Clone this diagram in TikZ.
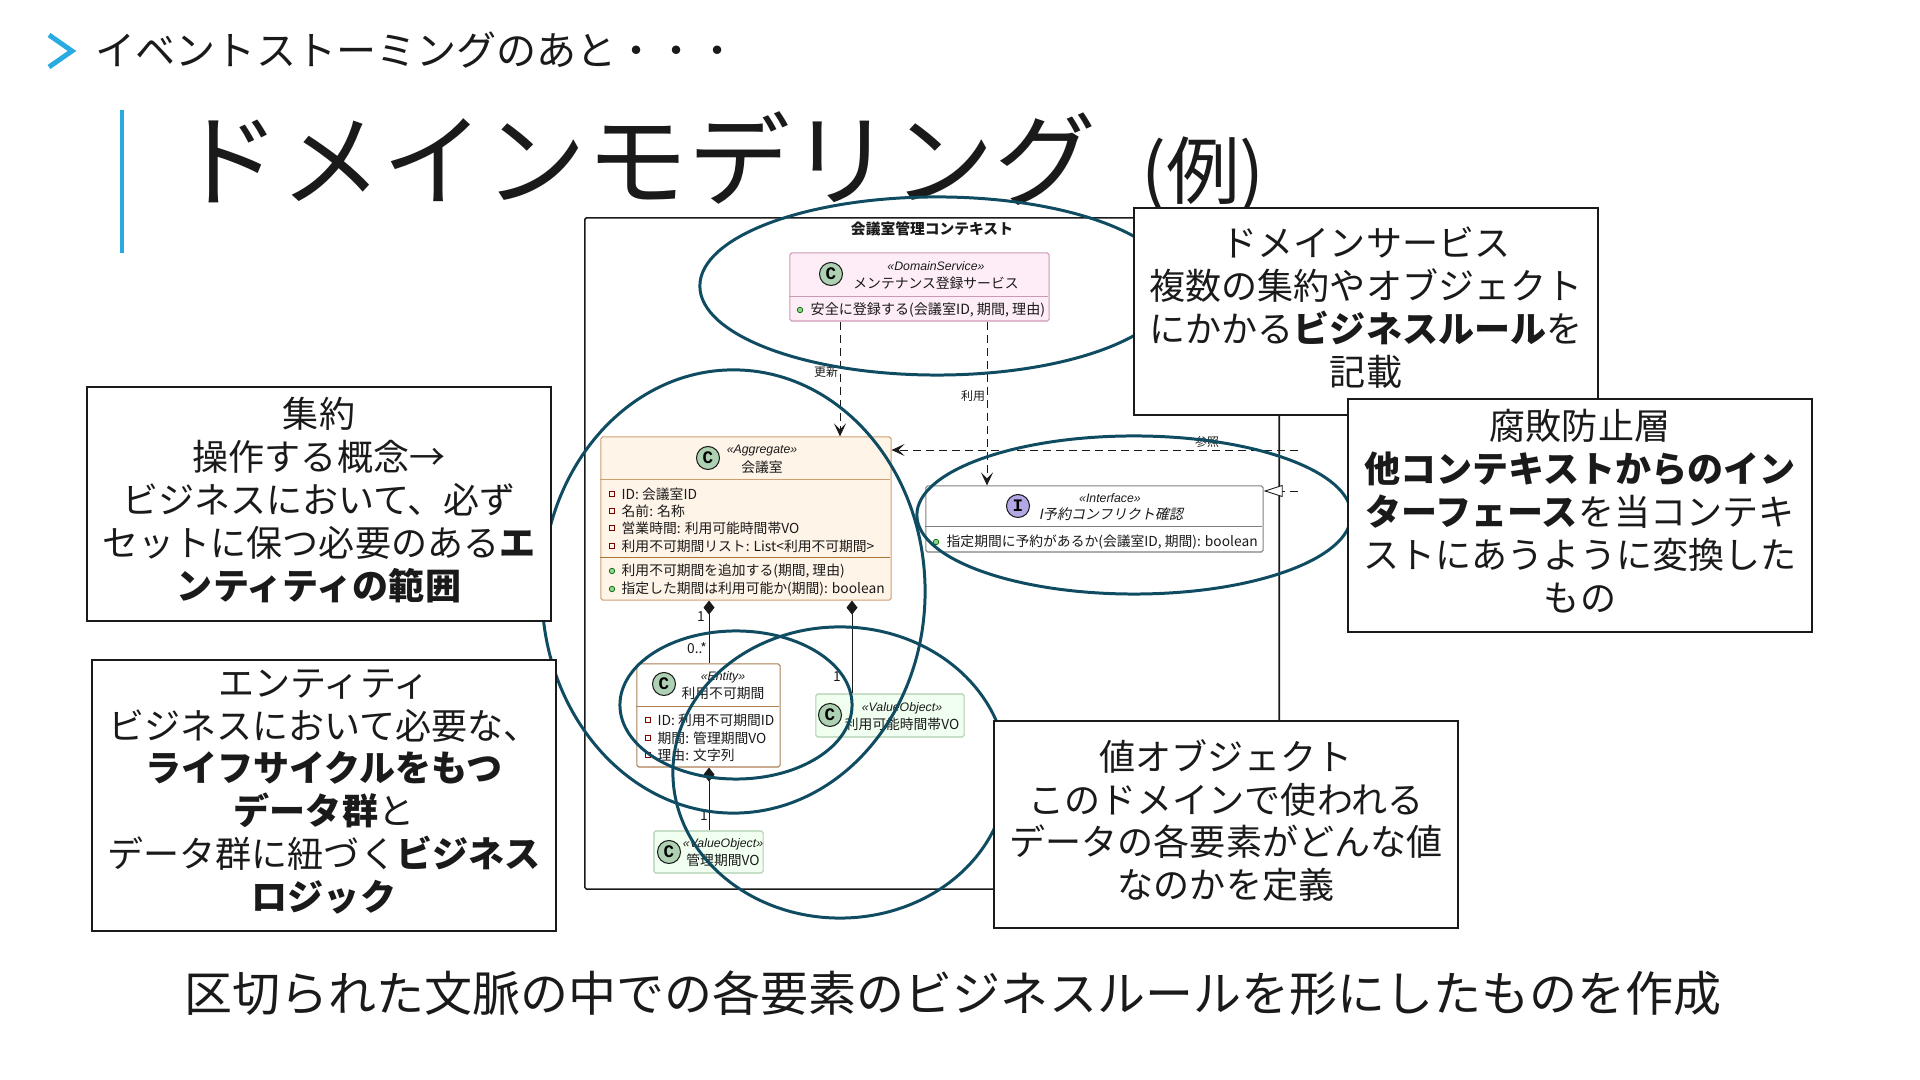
\documentclass[tikz,border=0pt]{standalone}
\usepackage{fontspec}
\usepackage{tikz}
\usetikzlibrary{arrows.meta}
\usetikzlibrary{shapes.geometric}
\setmainfont{Noto Sans CJK JP}
\newfontfamily\slantfont[FakeSlant=0.2]{Noto Sans CJK JP}
\newfontfamily\stereofont{Liberation Sans}
\newfontfamily\glyphfont{Liberation Mono}
\definecolor{ring_teal}{HTML}{0F4C61}
\definecolor{accent_blue}{HTML}{29ABE2}
\definecolor{ink}{HTML}{1A1A1A}
\definecolor{spot_green}{HTML}{ADD1B2}
\definecolor{spot_purple}{HTML}{B4A7E5}
\newcommand{\stereo}[1]{{\stereofont\itshape\fontsize{3.5pt}{4pt}\selectfont\guillemotleft #1\guillemotright}}
\newcommand{\notepad}{\rule[-1.08mm]{0pt}{1pt}}

\begin{document}
\begin{tikzpicture}[x=0.01cm,y=-0.01cm,
    class_box/.style={draw,rounded corners=0.5pt,line width=0.3pt,inner sep=0pt},
    small_text/.style={inner sep=0pt,text=ink,font=\fontsize{3.92pt}{4.6pt}\selectfont},
    member/.style={small_text,anchor=west},
    spot/.style={circle,draw=ink,line width=0.3pt,minimum size=0.23cm,inner sep=0pt,
                 font=\glyphfont\bfseries\fontsize{5pt}{5.5pt}\selectfont},
    field_mark/.style={rectangle,draw=red!50!black,line width=0.25pt,minimum size=0.05cm,inner sep=0pt},
    method_mark/.style={circle,draw=green!40!black,fill=green!45!gray!60,line width=0.2pt,minimum size=0.055cm,inner sep=0pt},
    ring/.style={ellipse,draw=ring_teal,line width=0.85pt,inner sep=0pt},
    note_box/.style={draw=ink,fill=white,line width=0.5pt,inner sep=0pt,align=center,text=ink,
                     font=\fontsize{10.25pt}{12.2pt}\selectfont}]
\useasboundingbox (0,0) rectangle (1920,1080);

% header
\draw [accent_blue,line width=1.4pt] (49,35) -- (72,51) -- (49,67);
\node [anchor=west,inner sep=0pt,text=ink,font=\fontsize{11.4pt}{13pt}\selectfont] (subtitle) at (95,50) {イベントストーミングのあと・・・};
\draw [accent_blue,line width=1pt] (122,110) -- (122,253);
\node [anchor=west,inner sep=0pt,text=ink,font=\fontsize{29pt}{32pt}\selectfont] (title) at (178,159) {ドメインモデリング};
\node [inner sep=0pt,text=ink,font=\fontsize{21pt}{24pt}\selectfont] (title_note) at (1203,175) {(例)};
\node [inner sep=0pt,text=ink,font=\fontsize{13.65pt}{16pt}\selectfont] (summary) at (953,993) {区切られた文脈の中での各要素のビジネスルールを形にしたものを作成};

% context frame
\node (frame) [draw=ink,rounded corners=0.5pt,line width=0.45pt,minimum width=6.94cm,minimum height=6.71cm] at (932,553.5) {};
\node (frame_title) [small_text,font=\bfseries\fontsize{4.2pt}{5pt}\selectfont] at (932,229) {会議室管理コンテキスト};

% classes
\node (ds) [class_box,draw=magenta!35!gray!70,fill=magenta!7,minimum width=2.59cm,minimum height=0.68cm] at (919.5,287) {};
\node (agg) [class_box,draw=brown!75,fill=orange!9,minimum width=2.90cm,minimum height=1.63cm] at (746,518.5) {};
\node (ifc) [class_box,draw=gray,fill=white,minimum width=3.37cm,minimum height=0.66cm] at (1094.5,519) {};
\node (ent) [class_box,draw=brown!70!gray,fill=white,minimum width=1.43cm,minimum height=1.03cm] at (708.5,715.5) {};
\node (vo1) [class_box,draw=green!25!gray!50,fill=green!6,minimum width=1.48cm,minimum height=0.43cm] at (890,715.5) {};
\node (vo2) [class_box,draw=green!25!gray!50,fill=green!6,minimum width=1.09cm,minimum height=0.42cm] at (708.5,852) {};

\draw [magenta!35!gray!70,line width=0.3pt] (ds.north west) ++(0,44) -- ++(259,0);
\draw [brown!75,line width=0.3pt] (agg.north west) ++(0,43) -- ++(290,0);
\draw [brown!90!black,line width=0.4pt] (agg.north west) ++(0,121) -- ++(290,0);
\draw [gray,line width=0.3pt] (ifc.north west) ++(0,41) -- ++(337,0);
\draw [brown!70!gray,line width=0.3pt] (ent.north west) ++(0,43) -- ++(143,0);

\node (ds_spot) [spot,fill=spot_green] at (831,274) {C};
\node (ds_st) [small_text] at (936,266) {\stereo{DomainService}};
\node (ds_name) [small_text] at (936,283) {メンテナンス登録サービス};
\node (ds_m) [method_mark] at (800,310) {};
\node (ds_mt) [member,font=\fontsize{4pt}{4.6pt}\selectfont] at (810,310) {安全に登録する(会議室ID, 期間, 理由)};

\node (agg_spot) [spot,fill=spot_green] at (708,458) {C};
\node (agg_st) [small_text] at (762,451) {\stereo{Aggregate}};
\node (agg_name) [small_text] at (762,467) {会議室};
\node (agg_f1) [field_mark] at (612,494) {};
\node (agg_f1t) [member] at (621,494) {ID: 会議室ID};
\node (agg_f2) [field_mark] at (612,511) {};
\node (agg_f2t) [member] at (621,511) {名前: 名称};
\node (agg_f3) [field_mark] at (612,528) {};
\node (agg_f3t) [member] at (621,528) {営業時間: 利用可能時間帯VO};
\node (agg_f4) [field_mark] at (612,546) {};
\node (agg_f4t) [member] at (621,546) {利用不可期間リスト: List<利用不可期間>};
\node (agg_m1) [method_mark] at (612,571) {};
\node (agg_m1t) [member] at (621,571) {利用不可期間を追加する(期間, 理由)};
\node (agg_m2) [method_mark] at (612,589) {};
\node (agg_m2t) [member] at (621,589) {指定した期間は利用可能か(期間): boolean};

\node (ifc_spot) [spot,fill=spot_purple] at (1018,506) {I};
\node (ifc_st) [small_text] at (1110,498) {\stereo{Interface}};
\node (ifc_name) [small_text,font=\slantfont\fontsize{4pt}{4.6pt}\selectfont] at (1111,514) {I予約コンフリクト確認};
\node (ifc_m) [method_mark] at (936,542) {};
\node (ifc_mt) [member] at (946,542) {指定期間に予約があるか(会議室ID, 期間): boolean};

\node (ent_spot) [spot,fill=spot_green] at (664,684) {C};
\node (ent_st) [small_text] at (723,677) {\stereo{Entity}};
\node (ent_name) [small_text] at (723,693) {利用不可期間};
\node (ent_f1) [field_mark] at (648,720) {};
\node (ent_f1t) [member] at (657,720) {ID: 利用不可期間ID};
\node (ent_f2) [field_mark] at (648,738) {};
\node (ent_f2t) [member] at (657,738) {期間: 管理期間VO};
\node (ent_f3) [field_mark] at (648,755) {};
\node (ent_f3t) [member] at (657,755) {理由: 文字列};

\node (vo1_spot) [spot,fill=spot_green] at (830,715) {C};
\node (vo1_st) [small_text] at (902,708) {\stereo{ValueObject}};
\node (vo1_name) [small_text] at (902,724) {利用可能時間帯VO};

\node (vo2_spot) [spot,fill=spot_green] at (669,852) {C};
\node (vo2_st) [small_text] at (723,844) {\stereo{ValueObject}};
\node (vo2_name) [small_text] at (723,860) {管理期間VO};

% connectors
\coordinate (upd_x) at (840,0);
\coordinate (use_x) at (987,0);
\coordinate (ref_start) at (1298,450);
\coordinate (impl_start) at (1298,491);
\coordinate (ent_x) at (709,0);
\coordinate (vo1_x) at (852,0);
\begin{scope}[dep_edge/.style={draw=ink,line width=0.25pt,dash pattern=on 0.8mm off 0.5mm},
              comp_edge/.style={draw=ink,line width=0.25pt},
              >={Stealth[ink,length=1.3mm,width=1.2mm,inset=0.6mm]}]
    \path [->] (ds.south -| upd_x) edge [dep_edge] (agg.north -| upd_x);
    \path [->] (ds.south -| use_x) edge [dep_edge] (ifc.north -| use_x);
    \path [->] (ref_start) edge [dep_edge] (agg.east |- ref_start);
    \path [-{Triangle[open,fill=white,length=1.9mm,width=1.2mm]}] (impl_start) edge [dep_edge] (ifc.east |- impl_start);
    \path [{Diamond[ink,length=1.4mm,width=1.1mm]}-] (agg.south -| ent_x) edge [comp_edge] (ent.north -| ent_x);
    \path [{Diamond[ink,length=1.4mm,width=1.1mm]}-] (agg.south -| vo1_x) edge [comp_edge] (vo1.north -| vo1_x);
    \path [{Diamond[ink,length=1.4mm,width=1.1mm]}-] (ent.south -| ent_x) edge [comp_edge] (vo2.north -| ent_x);
\end{scope}
\node (upd_label) [small_text,font=\fontsize{3.4pt}{4pt}\selectfont] at (826,372) {更新};
\node (use_label) [small_text,font=\fontsize{3.4pt}{4pt}\selectfont] at (973,396) {利用};
\node (ref_label) [small_text,font=\fontsize{3.4pt}{4pt}\selectfont] at (1207,442) {参照};
\node (ent_m1) [small_text] at (701,617) {1};
\node (ent_m2) [small_text] at (697,648) {0..*};
\node (vo1_m) [small_text] at (837,677) {1};
\node (vo2_m) [small_text] at (704,816) {1};

% highlight rings
\node (ds_ring) [ring,minimum width=4.74cm,minimum height=1.78cm] at (937,286) {};
\node (ifc_ring) [ring,minimum width=4.34cm,minimum height=1.58cm] at (1134,515) {};
\node (agg_ring) [ring,minimum width=3.83cm,minimum height=4.43cm] at (733.5,591.5) {};
\node (ent_ring) [ring,minimum width=2.32cm,minimum height=1.48cm] at (736,705) {};
\node (vo_ring) [ring,minimum width=3.34cm,minimum height=2.91cm] at (840,772.5) {};

% explanation boxes
\node (ds_note) [note_box,minimum width=4.64cm,minimum height=2.07cm] at (1366,311.5) {ドメインサービス\\複数の集約やオブジェクト\\にかかる\textbf{ビジネスルール}を\\記載\notepad};
\node (acl_note) [note_box,minimum width=4.64cm,minimum height=2.33cm] at (1580,515.5) {腐敗防止層\\\textbf{他コンテキストからのイン}\\\textbf{ターフェース}を当コンテキ\\ストにあうように変換した\\もの\notepad};
\node (agg_note) [note_box,minimum width=4.64cm,minimum height=2.34cm] at (319,504) {集約\\操作する概念→\\ビジネスにおいて、必ず\\セットに保つ必要のある\textbf{エ}\\\textbf{ンティティの範囲}\notepad};
\node (ent_note) [note_box,minimum width=4.64cm,minimum height=2.71cm] at (324,795.5) {エンティティ\\ビジネスにおいて必要な、\\\textbf{ライフサイクルをもつ}\\\textbf{データ群}と\\データ群に紐づく\textbf{ビジネス}\\\textbf{ロジック}\notepad};
\node (vo_note) [note_box,minimum width=4.64cm,minimum height=2.07cm] at (1226,824.5) {値オブジェクト\\このドメインで使われる\\データの各要素がどんな値\\なのかを定義\notepad};
\end{tikzpicture}
\end{document}
